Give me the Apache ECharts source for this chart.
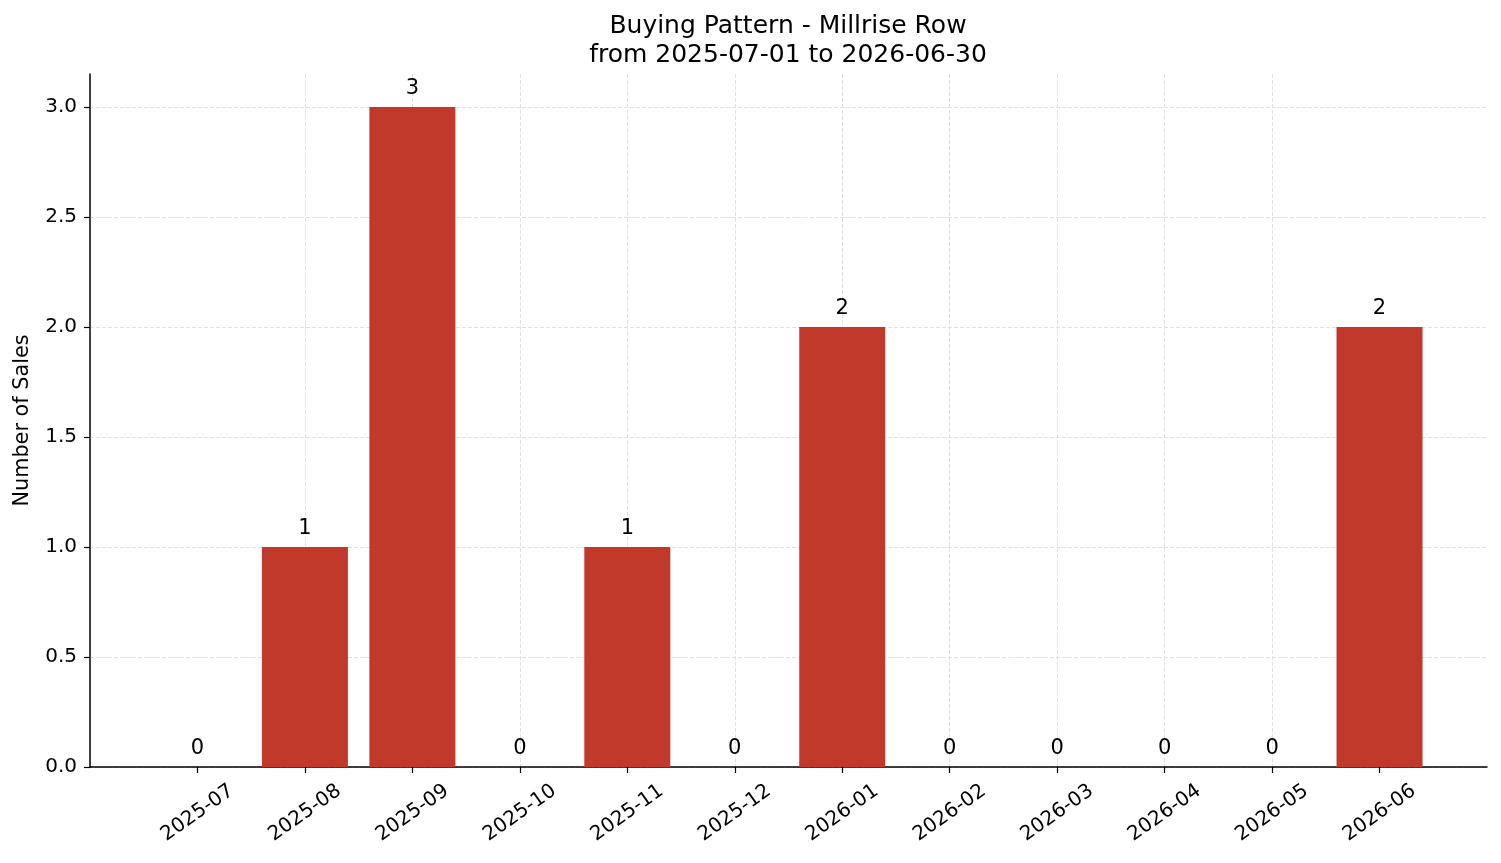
<!DOCTYPE html>
<html>
<head>
<meta charset="utf-8">
<script src="https://cdn.jsdelivr.net/npm/echarts@6/dist/echarts.min.js"></script>
<style>
  html, body { margin: 0; padding: 0; background: #fff; }
  #chart { width: 1501px; height: 863px; }
</style>
</head>
<body>
<div id="chart"></div>
<script>
// months shown on the x axis
const months = ['2025-07', '2025-08', '2025-09', '2025-10', '2025-11', '2025-12',
  '2026-01', '2026-02', '2026-03', '2026-04', '2026-05', '2026-06']
// number of sales per month
const sales = [0, 1, 3, 0, 1, 0, 2, 0, 0, 0, 0, 2]
const yTicks = [0, 0.5, 1, 1.5, 2, 2.5, 3]

const font = 'DejaVu Sans'
const monthIdx = months.map((m, i) => i)
const chart = echarts.init(document.getElementById('chart'))

chart.setOption({
  backgroundColor: '#ffffff',
  animation: false,
  textStyle: { fontFamily: font },
  title: {
    text: 'Buying Pattern - Millrise Row\nfrom 2025-07-01 to 2026-06-30',
    left: 783,
    top: 7,
    textAlign: 'center',
    textStyle: { color: '#000', fontSize: 25, fontWeight: 'normal', lineHeight: 29, fontFamily: font }
  },
  grid: { left: 90, right: 14, top: 74, bottom: 96, containLabel: false },
  xAxis: {
    type: 'value',
    min: -1,
    max: 12,
    interval: 1,
    axisLine: { show: true, onZero: false, lineStyle: { color: '#000', width: 1.5 } },
    axisTick: { show: true, length: 6, lineStyle: { color: '#000', width: 1.2 }, customValues: monthIdx },
    axisLabel: {
      rotate: 35,
      align: 'center',
      verticalAlign: 'middle',
      color: '#000',
      fontSize: 20,
      margin: 46,
      customValues: monthIdx,
      formatter: v => (v >= 0 && v < months.length ? months[v] : '')
    },
    splitLine: {
      show: true,
      showMinLine: false,
      showMaxLine: false,
      lineStyle: { color: '#d9d9d9', type: [4, 2], width: 0.8 }
    }
  },
  yAxis: {
    type: 'value',
    min: 0,
    max: 3.15,
    interval: 0.5,
    name: 'Number of Sales',
    nameLocation: 'middle',
    nameGap: 57,
    nameTextStyle: { color: '#000', fontSize: 20.8, fontFamily: font },
    axisLine: { show: true, onZero: false, lineStyle: { color: '#000', width: 1.5 } },
    axisTick: { show: true, length: 6, lineStyle: { color: '#000', width: 1.2 } },
    axisLabel: {
      color: '#000',
      fontSize: 20,
      margin: 13,
      showMaxLabel: false,
      formatter: v => (yTicks.includes(v) ? v.toFixed(1) : '')
    },
    splitLine: {
      show: true,
      showMaxLine: false,
      lineStyle: { color: '#d9d9d9', type: [4, 2], width: 0.8 }
    }
  },
  series: [{
    type: 'bar',
    data: sales.map((v, i) => [i, v]),
    barWidth: 86,
    itemStyle: { color: '#c0392b' },
    label: {
      show: true,
      position: 'top',
      distance: 8,
      color: '#000',
      fontSize: 21,
      fontFamily: font,
      formatter: p => String(p.value[1])
    }
  }]
})
</script>
</body>
</html>
